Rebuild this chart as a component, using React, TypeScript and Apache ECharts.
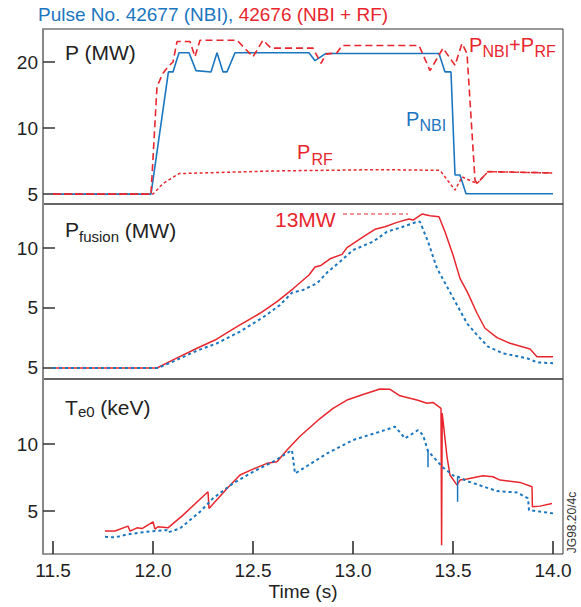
import React, { useEffect, useRef } from "react";
import * as echarts from "echarts";

const BLUE = "#1b76c0";
const RED = "#e8262d";
const FONT = "'Liberation Sans', Arial, Helvetica, sans-serif";

// x axis
const xTicks = [11.5, 12.0, 12.5, 13.0, 13.5, 14.0];

// y axis ticks and their printed labels
const pTicks = [0, 10, 20];
const pTickLabels = ["5", "10", "20"];
const fusionTicks = [0, 5, 10];
const fusionTickLabels = ["5", "5", "10"];
const teTicks = [5, 10];
const teTickLabels = ["5", "10"];

// Panel 1: heating power (MW)
const pNbi: number[][] = [
  [11.5, 0], [11.99, 0], [12.077, 18.5], [12.1, 18.5], [12.13, 21.4], [12.18, 21.4],
  [12.215, 18.7], [12.29, 18.5], [12.32, 21.4], [12.35, 18.5], [12.37, 18.5], [12.41, 21.4],
  [12.78, 21.4], [12.81, 20.2], [12.865, 21.3], [13.43, 21.3], [13.46, 18.5], [13.49, 18.5],
  [13.51, 2.9], [13.535, 2.9], [13.565, 0.05], [14.0, 0.05],
];
const pTotal: number[][] = [
  [11.5, 0], [11.99, 0], [12.02, 16.3], [12.05, 18.3], [12.075, 19.3], [12.1, 20.0],
  [12.12, 23.1], [12.185, 23.1], [12.21, 20.8], [12.235, 23.3], [12.42, 23.3], [12.5, 20.8],
  [12.55, 23.3], [12.59, 22.1], [12.8, 22.1], [12.84, 19.8], [12.865, 21.2], [12.92, 21.4],
  [12.945, 22.5], [13.33, 22.5], [13.385, 18.7], [13.45, 22.1], [13.51, 19.5], [13.545, 22.8],
  [13.57, 21.3], [13.61, 2.1], [13.62, 1.6], [13.675, 3.4], [14.0, 3.2],
];
const pRf: number[][] = [
  [11.5, 0], [12.0, 0], [12.05, 1.6], [12.13, 3.1], [12.6, 3.5], [13.13, 3.7], [13.435, 3.6],
  [13.51, 0.6], [13.545, 2.6], [13.62, 1.6], [13.675, 3.4], [14.0, 3.2],
];

// Panel 2: fusion power (MW)
const fusionRf: number[][] = [
  [11.5, 0], [12.02, 0], [12.1, 0.67], [12.22, 1.64], [12.31, 2.33], [12.42, 3.44],
  [12.535, 4.56], [12.62, 5.53], [12.7, 6.6], [12.78, 7.75], [12.81, 8.42], [12.84, 8.55],
  [12.885, 9.1], [12.945, 9.47], [12.97, 10.03], [13.06, 11.03], [13.11, 11.56], [13.16, 11.78],
  [13.22, 12.14], [13.28, 12.42], [13.3, 12.33], [13.345, 12.83], [13.385, 12.69], [13.43, 12.61],
  [13.46, 11.36], [13.5, 9.42], [13.535, 7.47], [13.575, 6.22], [13.62, 4.56], [13.66, 3.31],
  [13.72, 2.53], [13.785, 2.06], [13.885, 1.58], [13.92, 0.94], [14.0, 0.94],
];
const fusionNbi: number[][] = [
  [11.5, 0], [12.025, 0], [12.1, 0.53], [12.22, 1.44], [12.32, 2.06], [12.435, 3.03],
  [12.55, 4.22], [12.635, 5.25], [12.695, 6.28], [12.75, 6.5], [12.82, 7.06], [12.875, 8.03],
  [12.935, 8.86], [13.0, 9.83], [13.1, 10.53], [13.17, 11.36], [13.235, 11.69], [13.32, 12.19],
  [13.335, 12.19], [13.375, 10.53], [13.42, 8.31], [13.47, 6.78], [13.52, 5.25], [13.57, 3.72],
  [13.62, 2.75], [13.675, 1.78], [13.75, 1.22], [13.87, 0.81], [13.92, 0.47], [14.0, 0.39],
];

// Panel 3: central electron temperature (keV)
const teRf: number[][] = [
  [11.76, 3.51], [11.81, 3.51], [11.875, 3.88], [11.885, 3.51], [11.92, 3.75], [11.945, 3.7],
  [12.0, 4.2], [12.01, 3.66], [12.025, 3.83], [12.075, 3.75], [12.15, 4.7], [12.275, 6.44],
  [12.28, 5.2], [12.37, 6.69], [12.435, 7.69], [12.5, 8.13], [12.57, 8.56], [12.62, 8.68],
  [12.67, 9.55], [12.735, 10.58], [12.835, 11.9], [12.9, 12.66], [12.97, 13.28], [13.05, 13.7],
  [13.135, 14.1], [13.185, 14.08], [13.235, 13.6], [13.32, 13.28], [13.37, 13.04], [13.4, 13.1],
  [13.44, 12.66], [13.443, 2.46], [13.446, 12.3], [13.47, 9.05], [13.485, 7.69], [13.52, 6.94],
  [13.535, 7.31], [13.57, 7.39], [13.65, 7.63], [13.7, 7.56], [13.735, 7.31], [13.835, 7.14],
  [13.895, 6.81], [13.897, 5.32], [13.935, 5.37], [13.995, 5.57],
];
const teNbi: number[][] = [
  [11.76, 3.08], [11.81, 3.04], [11.87, 3.26], [11.97, 3.46], [12.07, 3.58], [12.075, 3.41],
  [12.135, 3.71], [12.235, 4.95], [12.3, 5.95], [12.4, 7.07], [12.5, 7.93], [12.6, 8.68],
  [12.695, 9.55], [12.71, 7.81], [12.735, 8.03], [12.87, 9.3], [13.0, 10.3], [13.135, 10.92],
  [13.21, 11.29], [13.225, 11.04], [13.26, 10.42], [13.325, 11.04], [13.35, 10.67], [13.375, 9.48],
  [13.45, 8.25], [13.51, 7.56], [13.525, 7.56], [13.57, 7.24], [13.72, 6.49], [13.82, 6.39],
  [13.875, 5.95], [13.88, 5.07], [14.0, 4.83],
];
const teNbiSpikeA: number[][] = [[13.375, 9.55], [13.375, 8.26]];
const teNbiSpikeB: number[][] = [[13.523, 7.56], [13.523, 5.69]];

const panelRanges = [
  { min: -1.5, max: 25, ticks: pTicks, labels: pTickLabels },
  { min: -0.92, max: 13.67, ticks: fusionTicks, labels: fusionTickLabels },
  { min: 1.8, max: 14.85, ticks: teTicks, labels: teTickLabels },
];

function lineSeries(data: number[][], idx: number, color: string, width: number, type: any, z = 2) {
  return {
    type: "line",
    xAxisIndex: idx,
    yAxisIndex: idx,
    data,
    symbol: "none",
    silent: true,
    z,
    lineStyle: { color, width, type },
  };
}

function txt(x: number, y: number, text: string, fill: string, fontSize: number, extra: any = {}) {
  return {
    type: "text",
    x,
    y,
    silent: true,
    ...extra,
    style: {
      text,
      fill,
      fontSize,
      fontFamily: FONT,
      align: "left",
      verticalAlign: "middle",
      ...(extra.style || {}),
    },
  };
}

export default function App() {
  const ref = useRef<HTMLDivElement>(null);
  useEffect(() => {
    if (!ref.current) return;
    const chart = echarts.init(ref.current, null, { renderer: "svg" });
    const grids = [29, 204, 379].map((top) => ({
      left: 43,
      top,
      width: 520,
      height: 175,
      show: true,
      borderColor: "#333",
      borderWidth: 1,
      containLabel: false,
    }));
    const xAxes = [0, 1, 2].map((i) => ({
      type: "value",
      gridIndex: i,
      min: 11.45,
      max: 14.05,
      axisLine: { show: false },
      splitLine: { show: false },
      axisTick:
        i === 2
          ? { show: true, inside: true, length: 13, customValues: xTicks, lineStyle: { color: "#222", width: 1.5 } }
          : { show: false },
      axisLabel:
        i === 2
          ? {
              show: true,
              customValues: xTicks,
              formatter: (v: number) => v.toFixed(1),
              fontSize: 19,
              fontFamily: FONT,
              color: "#222",
              margin: 7,
            }
          : { show: false },
      name: i === 2 ? "Time (s)" : "",
      nameLocation: "middle",
      nameGap: 28,
      nameTextStyle: { fontSize: 19, fontFamily: FONT, color: "#222" },
    }));
    const yAxes = panelRanges.map((r, i) => ({
      type: "value",
      gridIndex: i,
      min: r.min,
      max: r.max,
      axisLine: { show: true, lineStyle: { color: "#888", width: 2 } },
      splitLine: { show: false },
      axisTick: { show: true, inside: true, length: 12, customValues: r.ticks, lineStyle: { color: "#333", width: 1.5 } },
      axisLabel: {
        show: true,
        customValues: r.ticks,
        formatter: (v: number) => {
          const k = r.ticks.findIndex((t) => Math.abs(t - v) < 1e-6);
          return k >= 0 ? r.labels[k] : "";
        },
        fontSize: 19,
        fontFamily: FONT,
        color: "#222",
        margin: 5,
      },
    }));
    const option: any = {
      animation: false,
      backgroundColor: "#fff",
      grid: grids,
      xAxis: xAxes,
      yAxis: yAxes,
      series: [
        lineSeries(pNbi, 0, BLUE, 1.6, "solid", 2),
        lineSeries(pRf, 0, RED, 1.5, [3, 2.5], 3),
        lineSeries(pTotal, 0, RED, 1.6, [7, 4], 4),
        lineSeries(fusionRf, 1, RED, 1.5, "solid", 2),
        lineSeries(fusionNbi, 1, BLUE, 2, [3, 3], 3),
        lineSeries(teRf, 2, RED, 1.5, "solid", 2),
        lineSeries(teNbi, 2, BLUE, 2, [3, 3], 3),
        lineSeries(teNbiSpikeA, 2, BLUE, 1.5, "solid", 3),
        lineSeries(teNbiSpikeB, 2, BLUE, 1.5, "solid", 3),
      ],
      graphic: {
        elements: [
          {
            type: "text",
            x: 38,
            y: 14.5,
            silent: true,
            style: {
              text: "{b|Pulse No. 42677 (NBI), }{r|42676 (NBI + RF)}",
              align: "left",
              verticalAlign: "middle",
              fontFamily: FONT,
              fontSize: 19,
              rich: {
                b: { fill: BLUE, color: BLUE, fontSize: 19, fontFamily: FONT },
                r: { fill: RED, color: RED, fontSize: 19, fontFamily: FONT },
              },
            },
          },
          txt(65, 52, "P (MW)", "#222", 21),
          txt(65, 229.5, "P", "#222", 21),
          txt(79, 236, "fusion", "#222", 15),
          txt(119, 230, " (MW)", "#222", 21),
          txt(65, 407, "T", "#222", 21),
          txt(78, 411.5, "e0", "#222", 15),
          txt(94.5, 407, " (keV)", "#222", 21),
          // P_NBI + P_RF
          txt(469, 44.5, "P", RED, 20),
          txt(482.5, 51.5, "NBI", RED, 16),
          txt(509, 44.5, "+P", RED, 20),
          txt(534.5, 51.5, "RF", RED, 16),
          // P_NBI
          txt(406, 118.5, "P", BLUE, 20),
          txt(419.5, 125.5, "NBI", BLUE, 16),
          // P_RF
          txt(297, 151.5, "P", RED, 20),
          txt(311.5, 159.5, "RF", RED, 16),
          // 13MW
          txt(275, 219, "13MW", RED, 21),
          {
            type: "line",
            silent: true,
            shape: { x1: 343, y1: 214, x2: 408, y2: 214 },
            style: { stroke: RED, lineWidth: 1, lineDash: [4, 3] },
          },
          {
            type: "text",
            x: 571.5,
            y: 522.5,
            rotation: Math.PI / 2,
            silent: true,
            style: {
              text: "JG98.20/4c",
              fill: "#333",
              fontSize: 12,
              fontFamily: FONT,
              align: "center",
              verticalAlign: "middle",
            },
          },
        ],
      },
    };
    chart.setOption(option);
    return () => chart.dispose();
  }, []);
  return (
    <div
      ref={ref}
      style={{ position: "fixed", left: 0, top: 0, width: 581, height: 607, background: "#fff" }}
    />
  );
}
